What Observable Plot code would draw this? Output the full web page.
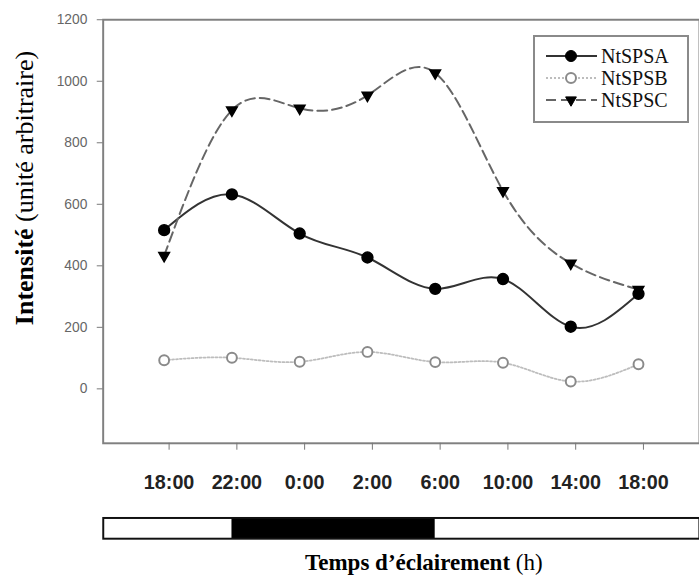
<!DOCTYPE html>
<html>
<head>
<meta charset="utf-8">
<script src="https://cdn.jsdelivr.net/npm/d3@7"></script>
<script src="https://cdn.jsdelivr.net/npm/@observablehq/plot@0.6"></script>
<style>
  html, body { margin: 0; padding: 0; background: #fff; }
  #wrap { position: relative; width: 699px; height: 579px; overflow: hidden; background: #fff; }
  #wrap > * { position: absolute; }
  #ylabel { left: 25px; top: 188px; transform: translate(-50%, -50%) rotate(-90deg);
            white-space: nowrap; font-family: "Liberation Serif", "Times New Roman", serif; font-size: 26px; color: #000; }
  #xtitle { left: 305px; top: 550px; white-space: nowrap;
            font-family: "Liberation Serif", "Times New Roman", serif; font-size: 23px; color: #000; }
</style>
</head>
<body>
<div id="wrap">
  <div id="main" style="left:0;top:0"></div>
  <div id="bar" style="left:0;top:516px"></div>
  <div id="legend" style="left:533px;top:35px"></div>
  <div id="ylabel"><b>Intensité</b> (unité arbitraire)</div>
  <div id="xtitle"><b>Temps d’éclairement</b> (h)</div>
</div>
<script>
// ---- data ----
const times = ["18:00", "22:00", "0:00", "2:00", "6:00", "10:00", "14:00", "18:00"];
const seriesNames = ["NtSPSA", "NtSPSB", "NtSPSC"];
const ntspsa = [516, 632, 505, 427, 325, 357, 202, 309];
const ntspsb = [93, 101, 88, 120, 87, 85, 24, 80];
const ntspsc = [433, 906, 912, 954, 1027, 644, 408, 323];
const yTicks = [0, 200, 400, 600, 800, 1000, 1200];
const darkPeriod = ["22:00", "6:00"]; // night between these sampling times

// ---- build table ----
const values = [ntspsa, ntspsb, ntspsc];
const table = [];
seriesNames.forEach((s, k) => values[k].forEach((v, i) => table.push({series: s, i, time: times[i], value: v})));
const bySeries = s => table.filter(d => d.series === s);

const styles = {
  NtSPSA: {line: {stroke: "#333", strokeWidth: 2}, dot: {fill: "#000", stroke: "#000", r: 5.5, symbol: "circle"}},
  NtSPSB: {line: {stroke: "#bdbdbd", strokeWidth: 1.8, strokeDasharray: "2,2"}, dot: {fill: "#fff", stroke: "#8a8a8a", strokeWidth: 2, r: 5, symbol: "circle"}},
  NtSPSC: {line: {stroke: "#666", strokeWidth: 2, strokeDasharray: "10,5"}, dot: {fill: "#000", stroke: "#000", r: 4, symbol: "triangle", rotate: 180}}
};

const xDomain = [-0.9, 7.9];
const W = 708;

const marks = [
  Plot.frame({stroke: "#808080", strokeWidth: 2}),
  Plot.axisY({ticks: yTicks, tickFormat: d => String(d), tickSize: 6, tickPadding: 10, stroke: "#777", fill: "#666", fontSize: 14, label: null}),
  Plot.axisX({ticks: d3.range(times.length), tickFormat: i => times[i], tickSize: 7, tickPadding: 25, dx: 5,
              stroke: "#777", fill: "#222", fontSize: 20, fontWeight: "bold", label: null})
];
seriesNames.forEach(s => {
  marks.push(Plot.line(bySeries(s), {x: "i", y: "value", curve: "natural", ...styles[s].line}));
});
seriesNames.forEach(s => {
  marks.push(Plot.dot(bySeries(s), {x: "i", y: "value", ...styles[s].dot}));
});

const main = Plot.plot({
  width: W, height: 500,
  marginLeft: 104, marginRight: 0, marginTop: 19.5, marginBottom: 51.5,
  style: {fontFamily: "'Liberation Sans', Arial, sans-serif", background: "transparent"},
  x: {domain: xDomain, axis: null},
  y: {domain: [-177, 1200], axis: null},
  marks
});
document.getElementById("main").appendChild(main);

// ---- light/dark bar ----
const dark = [{start: times.indexOf(darkPeriod[0]), end: times.indexOf(darkPeriod[1])}];
const bar = Plot.plot({
  width: W, height: 24,
  marginLeft: 104, marginRight: 0, marginTop: 1.5, marginBottom: 1.5,
  x: {domain: xDomain, axis: null},
  marks: [
    Plot.frame({fill: "#fff"}),
    Plot.rect(dark, {x1: "start", x2: "end", fill: "#000"}),
    Plot.frame({stroke: "#111", strokeWidth: 2})
  ]
});
document.getElementById("bar").appendChild(bar);

// ---- legend ----
const lg = d3.create("svg").attr("width", 157).attr("height", 89);
lg.append("rect").attr("x", 1).attr("y", 1).attr("width", 154).attr("height", 86)
  .attr("fill", "#fff").attr("stroke", "#8a8a8a").attr("stroke-width", 2);
seriesNames.forEach((s, k) => {
  const g = lg.append("g").attr("transform", `translate(0,${21 + k * 22})`);
  const ls = styles[s].line, ds = styles[s].dot;
  g.append("line").attr("x1", 13).attr("x2", 64).attr("y1", 0).attr("y2", 0)
    .attr("stroke", ls.stroke).attr("stroke-width", ls.strokeWidth).attr("stroke-dasharray", ls.strokeDasharray || null);
  const sym = ds.symbol === "triangle" ? d3.symbolTriangle : d3.symbolCircle;
  g.append("path").attr("d", d3.symbol(sym, Math.PI * ds.r * ds.r)())
    .attr("transform", `translate(38,0) rotate(${ds.rotate || 0})`)
    .attr("fill", ds.fill).attr("stroke", ds.stroke).attr("stroke-width", ds.strokeWidth || 1);
  g.append("text").attr("x", 68).attr("y", 0).attr("dy", "0.35em")
    .style("font-family", "'Liberation Serif', 'Times New Roman', serif").attr("font-size", 20).attr("fill", "#111")
    .text(s);
});
document.getElementById("legend").appendChild(lg.node());
</script>
</body>
</html>
